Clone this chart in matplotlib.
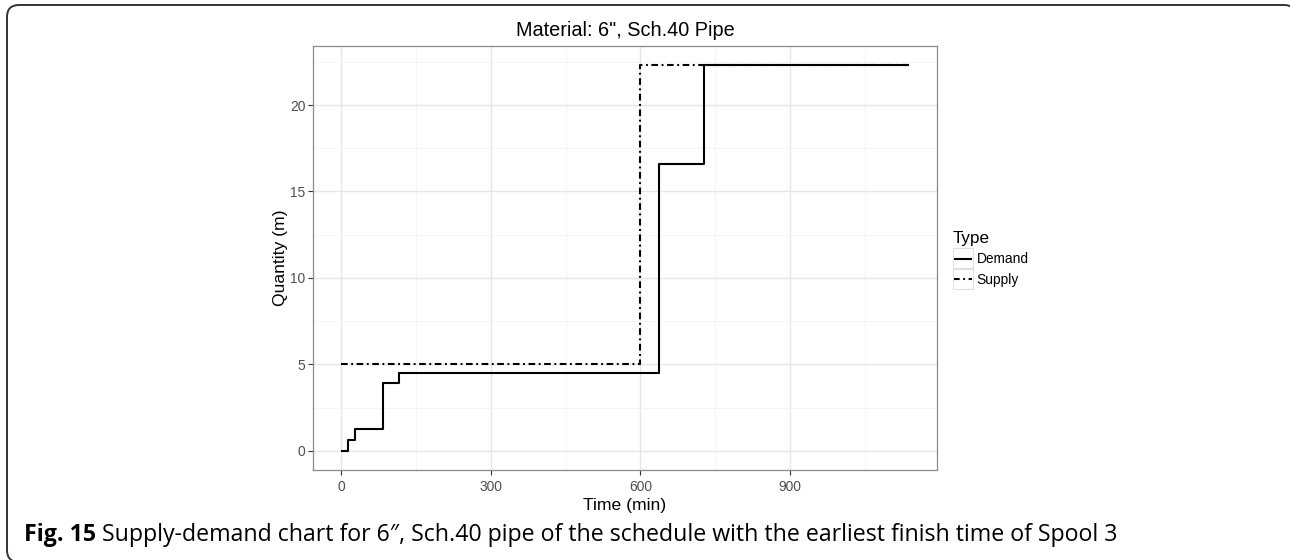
"""
Supply-demand step chart for 6", Sch.40 pipe (Fig. 15 recreation).
"""

import matplotlib
matplotlib.use("Agg")
import matplotlib.pyplot as plt
from matplotlib.patches import PathPatch, Rectangle
from matplotlib.path import Path
from matplotlib.transforms import Affine2D
from matplotlib.ticker import MultipleLocator

# --- Data ---
demand_t = [0, 13, 27, 83, 115, 637, 727, 1138]
demand_q = [0.0, 0.62, 1.26, 3.92, 4.51, 16.57, 22.3, 22.3]

supply_t = [0, 600, 1138]
supply_q = [5.0, 22.3, 22.3]

series_labels = ["Demand", "Supply"]
x_ticks = [0, 300, 600, 900]
y_ticks = [0, 5, 10, 15, 20]

title = 'Material: 6", Sch.40 Pipe'
caption_bold = "Fig. 15"
caption_rest = (" Supply-demand chart for 6\u2033, Sch.40 pipe of the schedule "
                "with the earliest finish time of Spool 3")

# --- Style ---
W, H = 1290, 560
BORDER = "#8a8a8a"
GRID_MAJOR = "#e6e6e6"
GRID_MINOR = "#f3f3f3"
TICK_TXT = "#4d4d4d"
plt.rcParams["font.family"] = ["Liberation Sans", "DejaVu Sans"]

fig = plt.figure(figsize=(W / 100, H / 100), dpi=100)
fig.patch.set_facecolor("white")

# panel placed in pixel terms
px_l, px_r, px_t, px_b = 313, 937, 46, 470
ax = fig.add_axes([px_l / W, 1 - px_b / H, (px_r - px_l) / W, (px_b - px_t) / H])

ax.plot(demand_t, demand_q, drawstyle="steps-post", color="black", lw=1.5,
        solid_capstyle="butt", zorder=4, label=series_labels[0])
ax.plot(supply_t, supply_q, drawstyle="steps-post", color="black", lw=1.5,
        dashes=(3.2, 1.7, 0.9, 1.7), zorder=3, label=series_labels[1])

# ggplot-like expansion (5%)
ax.set_xlim(-57, 1195)
ax.set_ylim(-1.115, 23.415)

ax.set_xticks(x_ticks)
ax.set_yticks(y_ticks)
ax.xaxis.set_minor_locator(MultipleLocator(150))
ax.yaxis.set_minor_locator(MultipleLocator(2.5))
ax.tick_params(which="major", length=3.5, width=0.8, color="#333333",
               labelsize=9.9, labelcolor=TICK_TXT)
ax.tick_params(axis="x", pad=3.5)
ax.tick_params(axis="y", pad=2)
ax.tick_params(which="minor", length=0)
ax.grid(which="major", color=GRID_MAJOR, lw=1.0, zorder=0)
ax.grid(which="minor", color=GRID_MINOR, lw=0.6, zorder=0)
ax.set_axisbelow(True)
for s in ax.spines.values():
    s.set_color(BORDER)
    s.set_linewidth(0.9)

ax.set_xlabel("Time (min)", fontsize=12.6, labelpad=3)
ax.set_ylabel("Quantity (m)", fontsize=12.6, labelpad=1.5)
fig.text((px_l + px_r) / 2 / W, 1 - 30 / H, title, fontsize=14.3,
         ha="center", va="center")

# --- Legend ---
leg = ax.legend(title="Type", loc="upper left",
                bbox_to_anchor=(947 / W, 1 - 225 / H),
                bbox_transform=fig.transFigure, frameon=False,
                fontsize=9.9, title_fontsize=12.3, handlelength=1.4,
                handletextpad=0.35, labelspacing=0.5, alignment="left",
                borderaxespad=0)
for yk in (248, 269):
    fig.add_artist(Rectangle((953 / W, 1 - (yk + 20) / H), 20 / W, 20 / H,
                             transform=fig.transFigure, fill=False,
                             ec="#e0e0e0", lw=0.8))

# --- Caption ---
cap = fig.text(24 / W, 1 - 535 / H, caption_bold, fontsize=16.7,
               fontweight="bold", ha="left", va="center",
               family=["Open Sans", "DejaVu Sans"])
fig.canvas.draw()
bb = cap.get_window_extent()
fig.text(bb.x1 / W, 1 - 535 / H, caption_rest, fontsize=16.7,
         ha="left", va="center", family=["Open Sans", "DejaVu Sans"])

# --- Page frame: left + top edges with rounded corners (pixels, y down) ---
L, T, R, B, rad = 7, 5, 1296, 562, 12
verts = [(L + rad, B), (L, B), (L, B - rad),
         (L, T + rad), (L, T), (L + rad, T),
         (R - rad, T), (R, T), (R, T + rad)]
codes = [Path.MOVETO, Path.CURVE3, Path.CURVE3,
         Path.LINETO, Path.CURVE3, Path.CURVE3,
         Path.LINETO, Path.CURVE3, Path.CURVE3]
pix = Affine2D().scale(1, -1).translate(0, H)
fig.add_artist(PathPatch(Path(verts, codes), transform=pix, fill=False,
                         ec="#333333", lw=1.4))

fig.savefig("out.png", dpi=100)
plt.close(fig)
